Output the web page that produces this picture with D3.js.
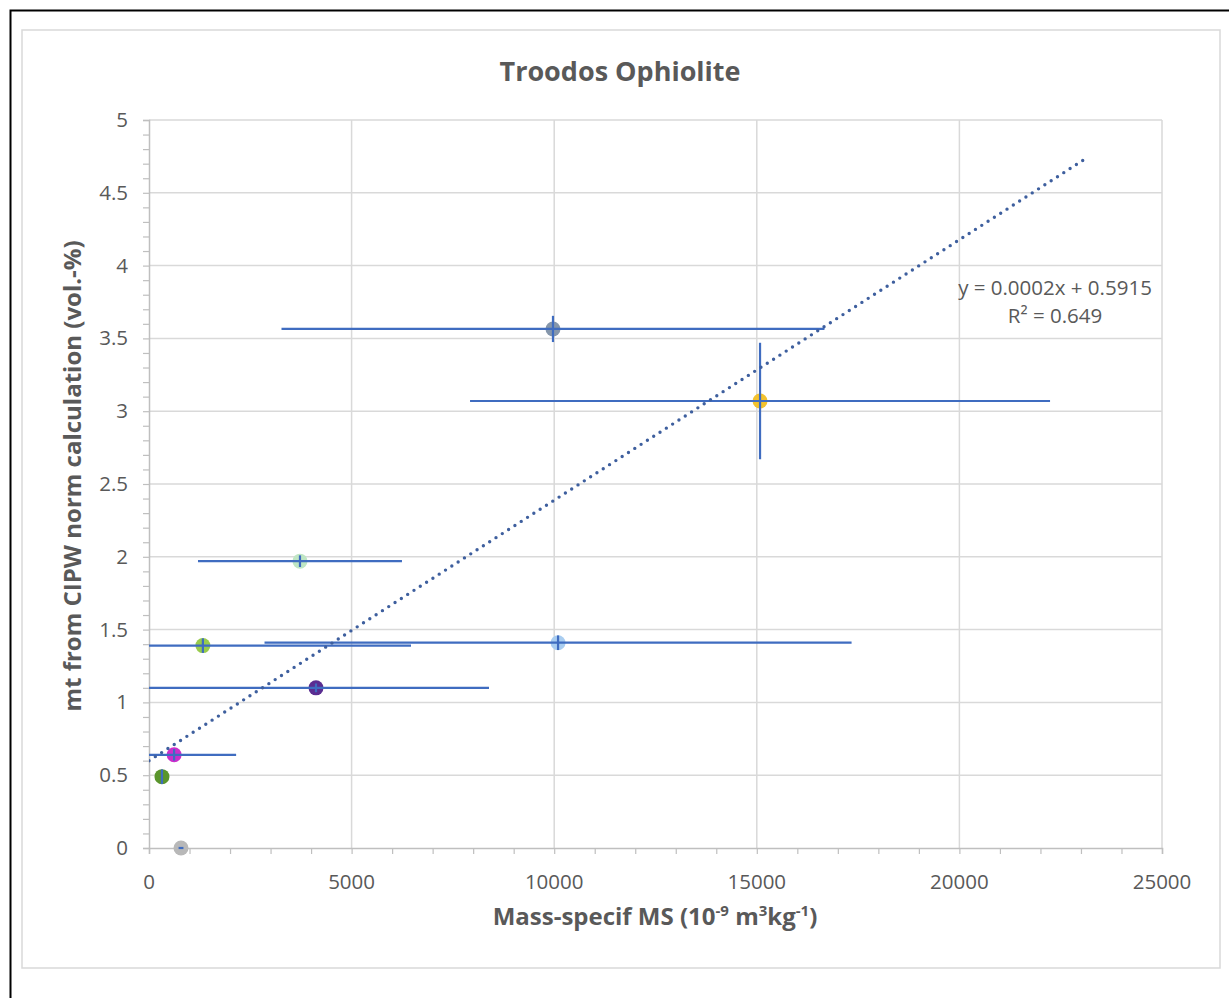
<!DOCTYPE html>
<html>
<head>
<meta charset="utf-8">
<script src="https://cdn.jsdelivr.net/npm/d3@7"></script>
<style>
  body { margin: 0; background: #fff; }
  svg text { font-family: "Open Sans", Lato, sans-serif; fill: #595959; }
</style>
</head>
<body>
<script>
// samples: mass-specific MS vs magnetite from CIPW norm
const xValues = [790, 320, 620, 4121, 1330, 10095, 3726, 9970, 15080];
const yValues = [0, 0.49, 0.64, 1.10, 1.39, 1.41, 1.97, 3.565, 3.07];
const xErrors = [60, 0, 1530, 4270, 5136, 7244, 2517, 6700, 7157];
const yErrors = [0, 0.05, 0.04, 0.03, 0.05, 0.05, 0.04, 0.09, 0.4];
const pointColors = ["#b8b8b8", "#5a952c", "#cc2ecc", "#5a2d91", "#98cb4c", "#a9cdf0", "#bfe6c4", "#8596ab", "#f3c22e"];
const xTicks = [0, 5000, 10000, 15000, 20000, 25000];
const yTicks = [0, 0.5, 1, 1.5, 2, 2.5, 3, 3.5, 4, 4.5, 5];
const trendExtent = [0, 23180];
const trendLabel = ["y = 0.0002x + 0.5915", "R² = 0.649"];

const W = 1229, H = 998;
const svg = d3.select("body").append("svg").attr("width", W).attr("height", H);

// outer frame + chart area
svg.append("path").attr("d", `M10.5,${H} V10.5 H${W}`).attr("fill", "none").attr("stroke", "#000").attr("stroke-width", 2);
svg.append("rect").attr("x", 22).attr("y", 30).attr("width", 1198).attr("height", 938)
  .attr("fill", "#fff").attr("stroke", "#d9d9d9").attr("stroke-width", 1.5);

const x = d3.scaleLinear().domain([0, 25000]).range([149, 1162]);
const y = d3.scaleLinear().domain([0, 5]).range([848, 120]);

// gridlines
svg.append("g").selectAll("line").data(xTicks.slice(1)).join("line")
  .attr("x1", d => x(d)).attr("x2", d => x(d)).attr("y1", y(0)).attr("y2", y(5))
  .attr("stroke", "#d9d9d9").attr("stroke-width", 1.5);
svg.append("g").selectAll("line").data(yTicks.slice(1)).join("line")
  .attr("x1", x(0)).attr("x2", x(25000)).attr("y1", d => y(d)).attr("y2", d => y(d))
  .attr("stroke", "#d9d9d9").attr("stroke-width", 1.5);

// axes
const xAxis = svg.append("g").attr("transform", `translate(0,${y(0)})`)
  .call(d3.axisBottom(x).tickValues(d3.range(0, 25001, 1000)).tickSize(6).tickFormat(""));
const yAxis = svg.append("g").attr("transform", `translate(${x(0)},0)`)
  .call(d3.axisLeft(y).tickValues(d3.range(0, 50.5, 1).map(d => d / 10)).tickSize(6).tickFormat(""));
[xAxis, yAxis].forEach(a => {
  a.select(".domain").attr("stroke", "#bfbfbf").attr("stroke-width", 1.5);
  a.selectAll(".tick line").attr("stroke", "#bfbfbf").attr("stroke-width", 1.2);
});

svg.append("g").selectAll("text").data(xTicks).join("text")
  .attr("x", d => x(d)).attr("y", y(0) + 41).attr("text-anchor", "middle")
  .attr("font-size", 20.5).text(d => d);
svg.append("g").selectAll("text").data(yTicks).join("text")
  .attr("x", x(0) - 21).attr("y", d => y(d) + 7).attr("text-anchor", "end")
  .attr("font-size", 20.5).text(d => d);

// title and axis titles
svg.append("text").attr("x", 620).attr("y", 81).attr("text-anchor", "middle")
  .attr("font-size", 27).attr("font-weight", "bold").text("Troodos Ophiolite");

const xt = svg.append("text").attr("x", 655).attr("y", 925).attr("text-anchor", "middle")
  .attr("font-size", 24).attr("font-weight", "bold");
xt.append("tspan").text("Mass-specif MS (10");
xt.append("tspan").attr("dy", -9).attr("font-size", 15).text("-9");
xt.append("tspan").attr("dy", 9).text(" m");
xt.append("tspan").attr("dy", -9).attr("font-size", 15).text("3");
xt.append("tspan").attr("dy", 9).text("kg");
xt.append("tspan").attr("dy", -9).attr("font-size", 15).text("-1");
xt.append("tspan").attr("dy", 9).text(")");

svg.append("text").attr("transform", "translate(81,476) rotate(-90)").attr("text-anchor", "middle")
  .attr("font-size", 24).attr("font-weight", "bold").text("mt from CIPW norm calculation (vol.-%)");

// plot clip
svg.append("clipPath").attr("id", "plot").append("rect")
  .attr("x", x(0)).attr("y", y(5)).attr("width", x(25000) - x(0)).attr("height", y(0) - y(5) + 10);

const pts = xValues.map((v, i) => ({ x: v, y: yValues[i], ex: xErrors[i], ey: yErrors[i], c: pointColors[i] }));

const plot = svg.append("g").attr("clip-path", "url(#plot)");

// markers
plot.selectAll("circle").data(pts).join("circle")
  .attr("cx", d => x(d.x)).attr("cy", d => y(d.y)).attr("r", 7.5)
  .attr("fill", d => d.c);

// error bars
const eb = plot.append("g").attr("stroke", "#3f6cc0").attr("stroke-width", 2.2);
eb.selectAll("line.h").data(pts.filter(d => d.ex > 0)).join("line").attr("class", "h")
  .attr("x1", d => x(d.x - d.ex)).attr("x2", d => x(d.x + d.ex))
  .attr("y1", d => y(d.y)).attr("y2", d => y(d.y));
eb.selectAll("line.v").data(pts.filter(d => d.ey > 0)).join("line").attr("class", "v")
  .attr("x1", d => x(d.x)).attr("x2", d => x(d.x))
  .attr("y1", d => y(d.y - d.ey)).attr("y2", d => y(d.y + d.ey));

// least-squares trendline
const mx = d3.mean(xValues), my = d3.mean(yValues);
const sxy = d3.sum(xValues, (v, i) => (v - mx) * (yValues[i] - my));
const sxx = d3.sum(xValues, v => (v - mx) ** 2);
const slope = sxy / sxx, icpt = my - slope * mx;
plot.append("path")
  .datum(trendExtent.map(v => [v, icpt + slope * v]))
  .attr("d", d3.line().x(d => x(d[0])).y(d => y(d[1])))
  .attr("fill", "none").attr("stroke", "#3e5f9e").attr("stroke-width", 3.4)
  .attr("stroke-linecap", "round").attr("stroke-dasharray", "0 7.5");

const tl = svg.append("text").attr("text-anchor", "middle").attr("font-size", 20.5);
tl.append("tspan").attr("x", 1055).attr("y", 295).text(trendLabel[0]);
tl.append("tspan").attr("x", 1055).attr("y", 323).text(trendLabel[1]);
</script>
</body>
</html>
